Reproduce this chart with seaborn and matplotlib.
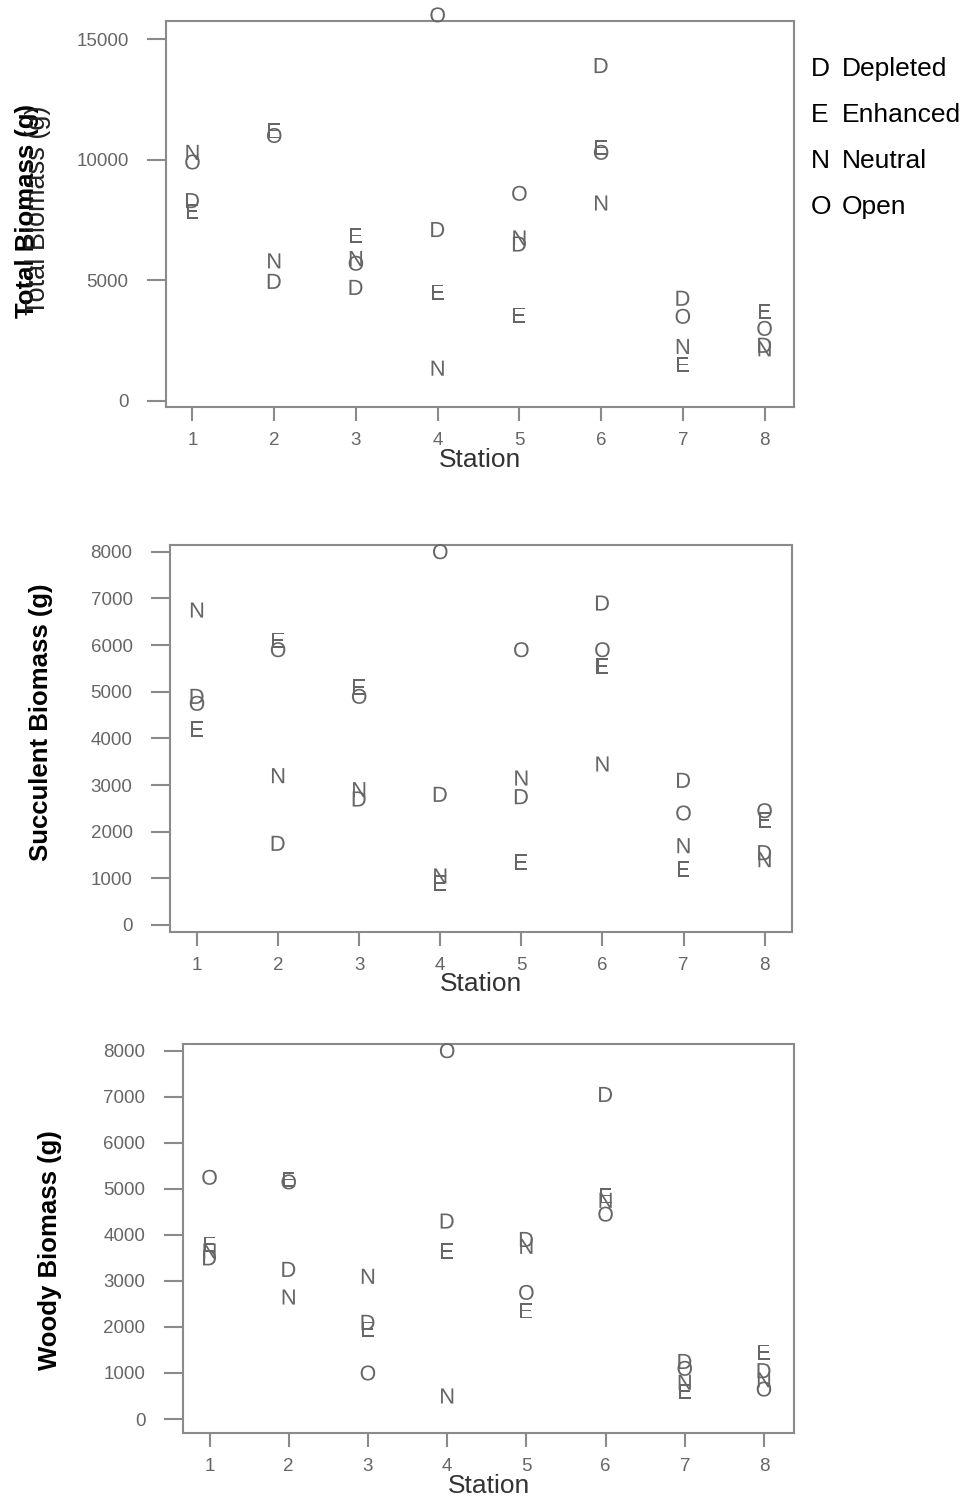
import matplotlib
matplotlib.use('Agg')
import pandas as pd
import matplotlib.pyplot as plt
import seaborn as sns

stations = [1, 2, 3, 4, 5, 6, 7, 8]
treatments = ['Depleted', 'Enhanced', 'Neutral', 'Open']
codes = ['D', 'E', 'N', 'O']

# Total biomass (g) per station
total_depleted = [8300, 4950, 4700, 7100, 6500, 13900, 4250, 2300]
total_enhanced = [7850, 11200, 6850, 4500, 3550, 10500, 1500, 3700]
total_neutral = [10300, 5800, 5900, 1350, 6750, 8200, 2250, 2150]
total_open = [9900, 11000, 5700, 16000, 8600, 10300, 3500, 3000]

# Succulent biomass (g)
succ_depleted = [4900, 1750, 2700, 2800, 2750, 6900, 3100, 1550]
succ_enhanced = [4200, 6100, 5100, 900, 1350, 5550, 1200, 2250]
succ_neutral = [6750, 3200, 2900, 1050, 3150, 3450, 1700, 1400]
succ_open = [4750, 5900, 4900, 8000, 5900, 5900, 2400, 2450]

# Woody biomass (g)
wood_depleted = [3500, 3250, 2100, 4300, 3900, 7050, 1250, 1050]
wood_enhanced = [3800, 5200, 1950, 3650, 2350, 4850, 600, 1450]
wood_neutral = [3650, 2650, 3100, 500, 3750, 4750, 800, 850]
wood_open = [5250, 5150, 1000, 8000, 2750, 4450, 1100, 650]


def long_table(depleted, enhanced, neutral, opened):
    rows = []
    for name, vals in zip(treatments, [depleted, enhanced, neutral, opened]):
        for s, v in zip(stations, vals):
            rows.append({'Station': s, 'Treatment': name, 'Biomass': v})
    return pd.DataFrame(rows)


sns.set_theme(style='white')
plt.rcParams['font.family'] = ['Liberation Sans', 'DejaVu Sans']
plt.rcParams['mathtext.fontset'] = 'custom'
plt.rcParams['mathtext.sf'] = 'Liberation Sans'

grey = '#666666'
spine_grey = '#8a8a8a'

panels = [
    dict(df=long_table(total_depleted, total_enhanced, total_neutral, total_open),
         ylabel='Total Biomass (g)', yticks=[0, 5000, 10000, 15000],
         ylim=(-260, 15760), xlim=(0.676, 8.36),
         rect=[166 / 966, 1 - 407 / 1500, 628 / 966, 386.3 / 1500],
         label_xy=(-0.222, 0.507)),
    dict(df=long_table(succ_depleted, succ_enhanced, succ_neutral, succ_open),
         ylabel='Succulent Biomass (g)', yticks=list(range(0, 8001, 1000)),
         ylim=(-144, 8144), xlim=(0.667, 8.338),
         rect=[170 / 966, 1 - 931.7 / 1500, 622 / 966, 386.7 / 1500],
         label_xy=(-0.207, 0.542)),
    dict(df=long_table(wood_depleted, wood_enhanced, wood_neutral, wood_open),
         ylabel='Woody Biomass (g)', yticks=list(range(0, 8001, 1000)),
         ylim=(-304, 8146), xlim=(0.665, 8.379),
         rect=[183 / 966, 1 - 1433 / 1500, 611 / 966, 389 / 1500],
         label_xy=(-0.218, 0.470)),
]

markers = {t: r'$\mathsf{%s}$' % c for t, c in zip(treatments, codes)}

fig = plt.figure(figsize=(9.66, 15), dpi=100)

for i, p in enumerate(panels):
    ax = fig.add_axes(p['rect'])
    sns.scatterplot(data=p['df'], x='Station', y='Biomass', style='Treatment',
                    markers=markers, style_order=treatments, color=grey,
                    s=118, linewidth=0, legend=False, ax=ax,
                    clip_on=False, zorder=3)
    ax.set_xlim(p['xlim'])
    ax.set_ylim(p['ylim'])
    ax.set_xticks(stations)
    ax.set_yticks(p['yticks'])
    for sp in ax.spines.values():
        sp.set_visible(True)
        sp.set_color(spine_grey)
        sp.set_linewidth(1.5)
    ax.tick_params(axis='y', direction='out', length=14, width=1.5,
                   color=spine_grey, pad=13, labelsize=13.5, labelcolor=grey,
                   left=True)
    ax.tick_params(axis='x', direction='out', length=10, width=1.5,
                   color=spine_grey, pad=8, labelsize=13.5, labelcolor=grey,
                   bottom=True)
    ax.set_xlabel('Station', fontsize=19, color='#333333', labelpad=-1)
    ax.set_ylabel(p['ylabel'], fontsize=18.5, fontweight='bold',
                  color='black', va='center')
    ax.yaxis.set_label_coords(*p['label_xy'])
    if i == 0:
        # the second, lighter copy of the y title seen in the original
        ax.text(-0.204, 0.51, p['ylabel'], transform=ax.transAxes,
                rotation=90, ha='center', va='center', fontsize=19.5,
                color='#222222')

# legend on the right
legend_y = [69, 115, 161, 207]
for c, t, y in zip(codes, treatments, legend_y):
    fig.text(811 / 966, 1 - y / 1500, c, fontsize=19, color='black',
             va='center', ha='left')
    fig.text(842 / 966, 1 - y / 1500, t, fontsize=19, color='black',
             va='center', ha='left')

fig.savefig('out.png', dpi=100)
